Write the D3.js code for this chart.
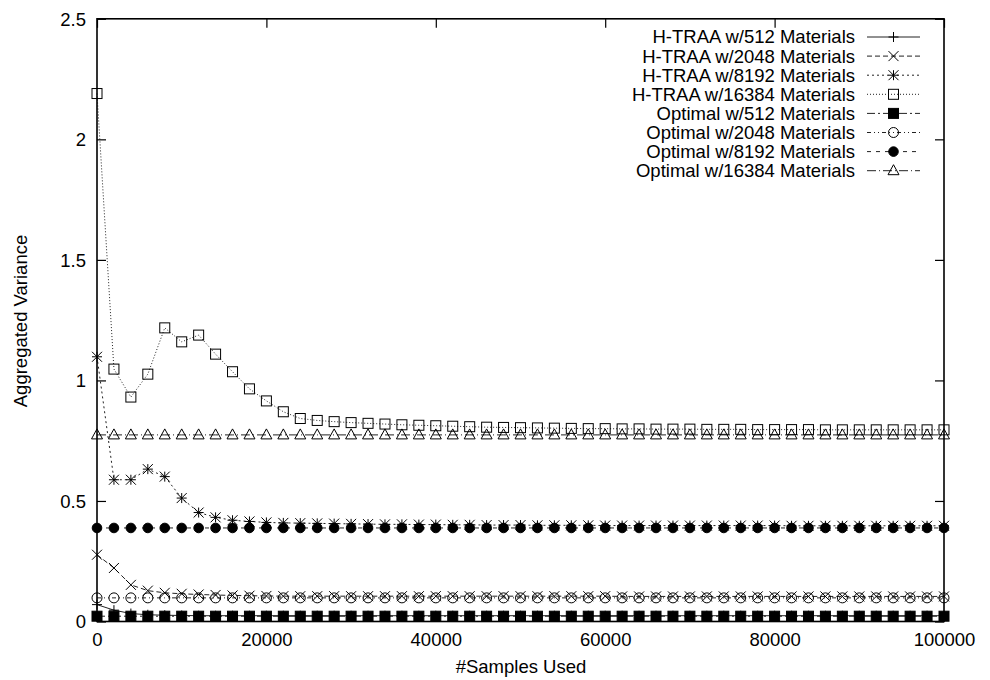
<!DOCTYPE html>
<html>
<head>
<meta charset="utf-8">
<script src="https://cdn.jsdelivr.net/npm/d3@7"></script>
<style>
  html, body { margin: 0; padding: 0; background: #fff; }
  svg { display: block; }
  text { font-family: "Liberation Sans", Arial, Helvetica, sans-serif; fill: #000; }
</style>
</head>
<body>
<svg id="chart" width="990" height="680"></svg>
<script>
// ---- data ----
const samples = [
  0, 2000, 4000, 6000, 8000, 10000, 12000, 14000, 16000, 18000,
  20000, 22000, 24000, 26000, 28000, 30000, 32000, 34000, 36000, 38000,
  40000, 42000, 44000, 46000, 48000, 50000, 52000, 54000, 56000, 58000,
  60000, 62000, 64000, 66000, 68000, 70000, 72000, 74000, 76000, 78000,
  80000, 82000, 84000, 86000, 88000, 90000, 92000, 94000, 96000, 98000,
  100000
];
const htraa512 = [
  0.070, 0.047, 0.033, 0.028, 0.026, 0.025, 0.024, 0.024, 0.024, 0.024,
  0.024, 0.024, 0.024, 0.024, 0.024, 0.024, 0.024, 0.024, 0.024, 0.024,
  0.024, 0.024, 0.024, 0.024, 0.024, 0.024, 0.024, 0.024, 0.024, 0.024,
  0.024, 0.024, 0.024, 0.024, 0.024, 0.024, 0.024, 0.024, 0.024, 0.024,
  0.024, 0.024, 0.024, 0.024, 0.024, 0.024, 0.024, 0.024, 0.024, 0.024,
  0.024
];
const htraa2048 = [
  0.277, 0.222, 0.152, 0.128, 0.119, 0.115, 0.112, 0.110, 0.108, 0.107,
  0.106, 0.105, 0.105, 0.105, 0.105, 0.105, 0.105, 0.105, 0.105, 0.105,
  0.105, 0.105, 0.105, 0.105, 0.105, 0.105, 0.105, 0.105, 0.105, 0.105,
  0.105, 0.104, 0.104, 0.104, 0.104, 0.104, 0.104, 0.104, 0.104, 0.104,
  0.104, 0.104, 0.104, 0.104, 0.104, 0.104, 0.104, 0.104, 0.104, 0.104,
  0.104
];
const htraa8192 = [
  1.098, 0.588, 0.588, 0.632, 0.601, 0.512, 0.452, 0.432, 0.420, 0.415,
  0.411, 0.409, 0.408, 0.407, 0.406, 0.405, 0.404, 0.403, 0.403, 0.402,
  0.402, 0.401, 0.401, 0.400, 0.400, 0.400, 0.399, 0.399, 0.399, 0.399,
  0.398, 0.398, 0.398, 0.398, 0.398, 0.398, 0.398, 0.398, 0.398, 0.398,
  0.398, 0.397, 0.397, 0.397, 0.397, 0.397, 0.397, 0.397, 0.397, 0.397,
  0.397
];
const htraa16384 = [
  2.190, 1.047, 0.931, 1.026, 1.218, 1.160, 1.188, 1.109, 1.036, 0.965,
  0.915, 0.870, 0.842, 0.834, 0.829, 0.825, 0.822, 0.819, 0.816, 0.814,
  0.812, 0.810, 0.808, 0.806, 0.805, 0.804, 0.803, 0.802, 0.801, 0.800,
  0.800, 0.799, 0.799, 0.798, 0.798, 0.798, 0.797, 0.797, 0.797, 0.796,
  0.796, 0.796, 0.796, 0.795, 0.795, 0.795, 0.795, 0.795, 0.795, 0.795,
  0.795
];
const optimal512 = [
  0.022, 0.022, 0.022, 0.022, 0.022, 0.022, 0.022, 0.022, 0.022, 0.022,
  0.022, 0.022, 0.022, 0.022, 0.022, 0.022, 0.022, 0.022, 0.022, 0.022,
  0.022, 0.022, 0.022, 0.022, 0.022, 0.022, 0.022, 0.022, 0.022, 0.022,
  0.022, 0.022, 0.022, 0.022, 0.022, 0.022, 0.022, 0.022, 0.022, 0.022,
  0.022, 0.022, 0.022, 0.022, 0.022, 0.022, 0.022, 0.022, 0.022, 0.022,
  0.022
];
const optimal2048 = [
  0.098, 0.098, 0.098, 0.098, 0.098, 0.098, 0.098, 0.098, 0.098, 0.098,
  0.098, 0.098, 0.098, 0.098, 0.098, 0.098, 0.098, 0.098, 0.098, 0.098,
  0.098, 0.098, 0.098, 0.098, 0.098, 0.098, 0.098, 0.098, 0.098, 0.098,
  0.098, 0.098, 0.098, 0.098, 0.098, 0.098, 0.098, 0.098, 0.098, 0.098,
  0.098, 0.098, 0.098, 0.098, 0.098, 0.098, 0.098, 0.098, 0.098, 0.098,
  0.098
];
const optimal8192 = [
  0.388, 0.388, 0.388, 0.388, 0.388, 0.388, 0.388, 0.388, 0.388, 0.388,
  0.388, 0.388, 0.388, 0.388, 0.388, 0.388, 0.388, 0.388, 0.388, 0.388,
  0.388, 0.388, 0.388, 0.388, 0.388, 0.388, 0.388, 0.388, 0.388, 0.388,
  0.388, 0.388, 0.388, 0.388, 0.388, 0.388, 0.388, 0.388, 0.388, 0.388,
  0.388, 0.388, 0.388, 0.388, 0.388, 0.388, 0.388, 0.388, 0.388, 0.388,
  0.388
];
const optimal16384 = [
  0.774, 0.774, 0.774, 0.774, 0.774, 0.774, 0.774, 0.774, 0.774, 0.774,
  0.774, 0.774, 0.774, 0.774, 0.774, 0.774, 0.774, 0.774, 0.774, 0.774,
  0.774, 0.774, 0.774, 0.774, 0.774, 0.774, 0.774, 0.774, 0.774, 0.774,
  0.774, 0.774, 0.774, 0.774, 0.774, 0.774, 0.774, 0.774, 0.774, 0.774,
  0.774, 0.774, 0.774, 0.774, 0.774, 0.774, 0.774, 0.774, 0.774, 0.774,
  0.774
];
const seriesNames = [
  "H-TRAA w/512 Materials", "H-TRAA w/2048 Materials", "H-TRAA w/8192 Materials",
  "H-TRAA w/16384 Materials", "Optimal w/512 Materials", "Optimal w/2048 Materials",
  "Optimal w/8192 Materials", "Optimal w/16384 Materials"
];
const xTicks = [0, 20000, 40000, 60000, 80000, 100000];
const yTicks = [0, 0.5, 1, 1.5, 2, 2.5];
const xTitle = "#Samples Used";
const yTitle = "Aggregated Variance";

// ---- styles (not data) ----
const seriesValues = [htraa512, htraa2048, htraa8192, htraa16384,
                      optimal512, optimal2048, optimal8192, optimal16384];
const dashes = ["none", "5,3", "2,3", "1,2", "8,3,2,3", "4,3,1,3,1,3", "4,5", "9,3,1,3"];
const markers = ["plus", "cross", "star", "square", "fsquare", "circle", "fcircle", "triangle"];

const svg = d3.select("#chart");
const FS = 18.5;
const xScale = d3.scaleLinear().domain([0, 100000]).range([97, 944]);
const yScale = d3.scaleLinear().domain([0, 2.5]).range([621.5, 18.8]);
const X0 = xScale.range()[0], X1 = xScale.range()[1], Y0 = yScale.range()[0], Y1 = yScale.range()[1];

function drawMarker(g, type, cx, cy) {
  const s = 5;
  const stroke = "#000";
  if (type === "plus") {
    g.append("path").attr("d", `M${cx - s},${cy}H${cx + s}M${cx},${cy - s}V${cy + s}`)
      .attr("stroke", stroke).attr("stroke-width", 1).attr("fill", "none");
  } else if (type === "cross") {
    g.append("path").attr("d", `M${cx - s},${cy - s}L${cx + s},${cy + s}M${cx - s},${cy + s}L${cx + s},${cy - s}`)
      .attr("stroke", stroke).attr("stroke-width", 1).attr("fill", "none");
  } else if (type === "star") {
    g.append("path").attr("d", `M${cx - s},${cy}H${cx + s}M${cx},${cy - s}V${cy + s}M${cx - s},${cy - s}L${cx + s},${cy + s}M${cx - s},${cy + s}L${cx + s},${cy - s}`)
      .attr("stroke", stroke).attr("stroke-width", 1).attr("fill", "none");
  } else if (type === "square") {
    g.append("rect").attr("x", cx - s).attr("y", cy - s).attr("width", 2 * s).attr("height", 2 * s)
      .attr("stroke", stroke).attr("stroke-width", 1).attr("fill", "none");
  } else if (type === "fsquare") {
    g.append("rect").attr("x", cx - s).attr("y", cy - s).attr("width", 2 * s).attr("height", 2 * s)
      .attr("stroke", stroke).attr("stroke-width", 1).attr("fill", "#000");
  } else if (type === "circle") {
    g.append("circle").attr("cx", cx).attr("cy", cy).attr("r", s)
      .attr("stroke", stroke).attr("stroke-width", 1).attr("fill", "none");
  } else if (type === "fcircle") {
    g.append("circle").attr("cx", cx).attr("cy", cy).attr("r", 4.8)
      .attr("stroke", stroke).attr("stroke-width", 1).attr("fill", "#000");
  } else if (type === "triangle") {
    g.append("path").attr("d", `M${cx},${cy - 6}L${cx + 5.5},${cy + 4}L${cx - 5.5},${cy + 4}Z`)
      .attr("stroke", stroke).attr("stroke-width", 1).attr("fill", "none");
  }
}

// ---- series ----
const lineGen = d3.line().x(d => xScale(d[0])).y(d => yScale(d[1]));
seriesValues.forEach((vals, i) => {
  const pts = samples.map((s, k) => [s, vals[k]]);
  const g = svg.append("g").attr("class", "series");
  g.append("path").attr("d", lineGen(pts)).attr("fill", "none")
    .attr("stroke", "#222").attr("stroke-width", 1)
    .attr("stroke-dasharray", dashes[i]);
  pts.forEach(p => drawMarker(g, markers[i], xScale(p[0]), yScale(p[1])));
});

// ---- axes (gnuplot style: inward ticks, mirrored) ----
const tickLen = 9;
const axG = svg.append("g");
const axBottom = d3.axisBottom(xScale).tickValues(xTicks).tickSize(-tickLen).tickPadding(0).tickFormat(d3.format("d"));
const axTop = d3.axisTop(xScale).tickValues(xTicks).tickSize(-tickLen).tickFormat("");
const axLeft = d3.axisLeft(yScale).tickValues(yTicks).tickSize(-tickLen).tickFormat(d => d3.format("")(d));
const axRight = d3.axisRight(yScale).tickValues(yTicks).tickSize(-tickLen).tickFormat("");

const gb = axG.append("g").attr("transform", `translate(0,${Y0})`).call(axBottom);
const gt = axG.append("g").attr("transform", `translate(0,${Y1})`).call(axTop);
const gl = axG.append("g").attr("transform", `translate(${X0},0)`).call(axLeft);
const gr = axG.append("g").attr("transform", `translate(${X1},0)`).call(axRight);
[gb, gt, gl, gr].forEach(g => {
  g.select(".domain").remove();
  g.selectAll(".tick line").attr("stroke", "#000").attr("stroke-width", 1.2);
});
gb.selectAll(".tick text").attr("y", 24).attr("dy", 0)
  .style("font-size", FS + "px").style("font-family", '"Liberation Sans", Arial, sans-serif');
gl.selectAll(".tick text").attr("x", -11).attr("dy", "0.35em")
  .style("font-size", FS + "px").style("font-family", '"Liberation Sans", Arial, sans-serif');

// border
svg.append("rect").attr("x", X0).attr("y", Y1).attr("width", X1 - X0).attr("height", Y0 - Y1)
  .attr("fill", "none").attr("stroke", "#000").attr("stroke-width", 1.6);

// axis titles
svg.append("text").attr("x", 521).attr("y", 673).attr("text-anchor", "middle")
  .style("font-size", FS + "px").text(xTitle);
svg.append("text").attr("transform", "translate(27,321) rotate(-90)").attr("text-anchor", "middle")
  .style("font-size", FS + "px").text(yTitle);

// ---- legend ----
const leg = svg.append("g");
seriesNames.forEach((name, i) => {
  const ly = 37 + i * 19.1;
  leg.append("text").attr("x", 855).attr("y", ly).attr("dy", "0.35em").attr("text-anchor", "end")
    .style("font-size", FS + "px").text(name);
  leg.append("line").attr("x1", 867).attr("x2", 920).attr("y1", ly).attr("y2", ly)
    .attr("stroke", "#222").attr("stroke-width", 1).attr("stroke-dasharray", dashes[i]);
  drawMarker(leg, markers[i], 893.5, ly);
});
</script>
</body>
</html>
